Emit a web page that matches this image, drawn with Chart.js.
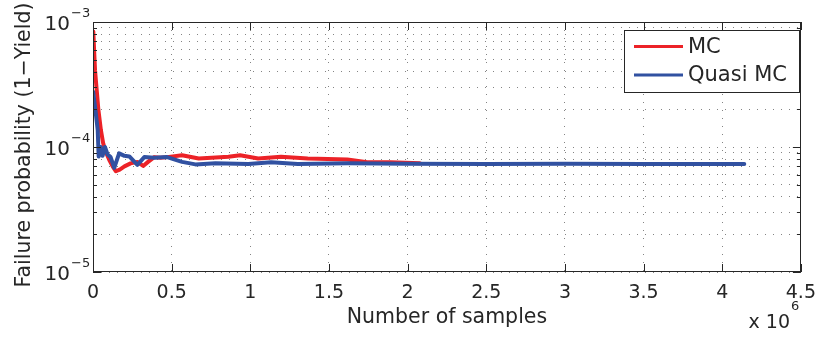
<!DOCTYPE html>
<html>
<head>
<meta charset="utf-8">
<script src="https://cdn.jsdelivr.net/npm/chart.js@4/dist/chart.umd.min.js"></script>
<style>
  html, body { margin: 0; padding: 0; background: #fff; }
  #chart { display: block; }
</style>
</head>
<body>
<canvas id="chart" width="826" height="341"></canvas>
<script>
/* ---- data ---- */
const mcSamples = [2e3, 8e3, 13e3, 23e3, 34e3, 50e3, 64e3, 80e3, 103e3, 125e3, 145e3, 170e3, 200e3, 239e3, 282e3, 319e3, 350e3, 389e3, 430e3, 471e3, 566e3, 672e3, 861e3, 935e3, 1050e3, 1195e3, 1365e3, 1617e3, 1743e3, 1888e3, 2077e3];
const mcFail = [8.4e-4, 5.6e-4, 4.1e-4, 2.9e-4, 2.0e-4, 1.37e-4, 1.08e-4, 9.2e-5, 7.9e-5, 7.0e-5, 6.4e-5, 6.6e-5, 7.0e-5, 7.4e-5, 7.6e-5, 7.05e-5, 7.6e-5, 8.3e-5, 8.2e-5, 8.3e-5, 8.6e-5, 8.1e-5, 8.35e-5, 8.6e-5, 8.1e-5, 8.35e-5, 8.1e-5, 7.95e-5, 7.55e-5, 7.55e-5, 7.4e-5];

const qmcSamples = [1e3, 13e3, 30e3, 36e3, 49e3, 61e3, 76e3, 93e3, 112e3, 135e3, 166e3, 200e3, 231e3, 282e3, 326e3, 389e3, 471e3, 566e3, 651e3, 778e3, 987e3, 1132e3, 1302e3, 1617e3, 2000e3, 2500e3, 3000e3, 3500e3, 4140e3];
const qmcFail = [2.77e-4, 2.1e-4, 1.37e-4, 8.4e-5, 1.0e-4, 8.5e-5, 1.0e-4, 8.7e-5, 8.3e-5, 6.8e-5, 8.9e-5, 8.5e-5, 8.4e-5, 7.2e-5, 8.3e-5, 8.2e-5, 8.3e-5, 7.6e-5, 7.26e-5, 7.4e-5, 7.3e-5, 7.55e-5, 7.3e-5, 7.4e-5, 7.35e-5, 7.3e-5, 7.35e-5, 7.3e-5, 7.3e-5];

const seriesLabels = ['MC', 'Quasi MC'];
const yDecades = [-5, -4, -3];          // major ticks 10^e
const xStep = 0.5e6, xMax = 4.5e6;
const xScaleExp = 6;

const FONT = "'DejaVu Sans', sans-serif";
const INK = '#262626';
const RED = '#ec2227';
const BLUE = '#3151a1';

// log ticks 1..9 x 10^e, ends at the last decade
const yTickValues = [];
yDecades.forEach((e, i) => {
  if (i === yDecades.length - 1) { yTickValues.push(Math.pow(10, e)); return; }
  for (let m = 1; m <= 9; m++) yTickValues.push(m * Math.pow(10, e));
});

const toPoints = (xs, ys) => xs.map((x, i) => ({ x, y: ys[i] }));

/* ---- axes decoration, labels, legend (MATLAB look) ---- */
const matlabDeco = {
  id: 'matlabDeco',
  afterDraw(chart) {
    const { ctx, chartArea: a, scales: { x, y } } = chart;
    ctx.save();

    // box
    ctx.strokeStyle = INK;
    ctx.lineWidth = 1;
    ctx.strokeRect(Math.round(a.left) + 0.5, Math.round(a.top) + 0.5, Math.round(a.width) - 1, Math.round(a.height) - 1);

    // inward ticks
    ctx.beginPath();
    x.ticks.forEach(t => {
      const px = Math.round(x.getPixelForValue(t.value)) + 0.5;
      ctx.moveTo(px, a.bottom); ctx.lineTo(px, a.bottom - 8);
      ctx.moveTo(px, a.top); ctx.lineTo(px, a.top + 8);
    });
    y.ticks.forEach(t => {
      const py = Math.round(y.getPixelForValue(t.value)) + 0.5;
      const major = Number.isInteger(Math.round(Math.log10(t.value) * 1e6) / 1e6);
      const len = major ? 8 : 4;
      ctx.moveTo(a.left, py); ctx.lineTo(a.left + len, py);
      ctx.moveTo(a.right, py); ctx.lineTo(a.right - len, py);
    });
    ctx.stroke();

    // y tick labels 10^e
    ctx.fillStyle = INK;
    yDecades.forEach(e => {
      const py = y.getPixelForValue(Math.pow(10, e));
      ctx.font = `20px ${FONT}`;
      ctx.textAlign = 'right';
      ctx.textBaseline = 'alphabetic';
      ctx.fillText('10', 70, py + 8);
      ctx.font = `13px ${FONT}`;
      ctx.textAlign = 'left';
      ctx.fillText('\u2212' + Math.abs(e), 71, py - 5);
    });

    // axis titles
    ctx.font = `20.5px ${FONT}`;
    ctx.textAlign = 'center';
    ctx.textBaseline = 'middle';
    ctx.save();
    ctx.translate(25, 145);
    ctx.rotate(-Math.PI / 2);
    ctx.fillText('Failure probability (1\u2212Yield)', 0, 0);
    ctx.restore();
    ctx.textBaseline = 'alphabetic';
    ctx.fillText('Number of samples', (a.left + a.right) / 2, 323);

    // exponent of x axis
    ctx.font = `19px ${FONT}`;
    ctx.textAlign = 'right';
    ctx.fillText('x 10', 790, 328);
    ctx.font = `13px ${FONT}`;
    ctx.textAlign = 'left';
    ctx.fillText(String(xScaleExp), 791, 310);

    // legend
    const lg = { left: 624, top: 30, right: 799, bottom: 92 };
    ctx.fillStyle = '#fff';
    ctx.fillRect(lg.left, lg.top, lg.right - lg.left, lg.bottom - lg.top);
    ctx.strokeStyle = INK;
    ctx.lineWidth = 1;
    ctx.strokeRect(lg.left + 0.5, lg.top + 0.5, lg.right - lg.left, lg.bottom - lg.top);
    const rows = [46.5, 75];
    chart.data.datasets.forEach((ds, i) => {
      ctx.strokeStyle = ds.borderColor;
      ctx.lineWidth = 3;
      ctx.beginPath();
      ctx.moveTo(634, rows[i]); ctx.lineTo(683, rows[i]);
      ctx.stroke();
      ctx.fillStyle = INK;
      ctx.font = `21px ${FONT}`;
      ctx.textAlign = 'left';
      ctx.textBaseline = 'middle';
      ctx.fillText(ds.label, 688, rows[i] + 1);
    });

    ctx.restore();
  }
};

const gridOpts = { color: 'rgba(50,50,50,0.6)', lineWidth: 1, drawTicks: false };
const dotted = { display: false, dash: [1, 7] };

new Chart(document.getElementById('chart'), {
  type: 'line',
  data: {
    datasets: [
      { label: seriesLabels[0], data: toPoints(mcSamples, mcFail), borderColor: RED, order: 2 },
      { label: seriesLabels[1], data: toPoints(qmcSamples, qmcFail), borderColor: BLUE, order: 1 }
    ]
  },
  options: {
    responsive: false,
    animation: false,
    devicePixelRatio: 1,
    layout: { padding: { top: 22, right: 19, left: 0, bottom: 0 } },
    elements: {
      line: { borderWidth: 4, tension: 0, borderJoinStyle: 'round', borderCapStyle: 'round', fill: false },
      point: { radius: 0 }
    },
    plugins: { legend: { display: false }, tooltip: { enabled: false } },
    scales: {
      x: {
        type: 'linear', min: 0, max: xMax,
        grid: gridOpts, border: dotted,
        ticks: {
          stepSize: xStep, padding: 10, color: INK,
          font: { family: FONT, size: 19 },
          maxRotation: 0, autoSkip: false,
          callback: v => String(+(v / Math.pow(10, xScaleExp)).toFixed(1))
        },
        afterFit: s => { s.height = 69; }
      },
      y: {
        type: 'logarithmic', min: 1e-5, max: 1e-3,
        grid: gridOpts, border: dotted,
        ticks: { display: false },
        afterBuildTicks: s => { s.ticks = yTickValues.map(v => ({ value: v })); },
        afterFit: s => { s.width = 93; }
      }
    }
  },
  plugins: [matlabDeco]
});
</script>
</body>
</html>
